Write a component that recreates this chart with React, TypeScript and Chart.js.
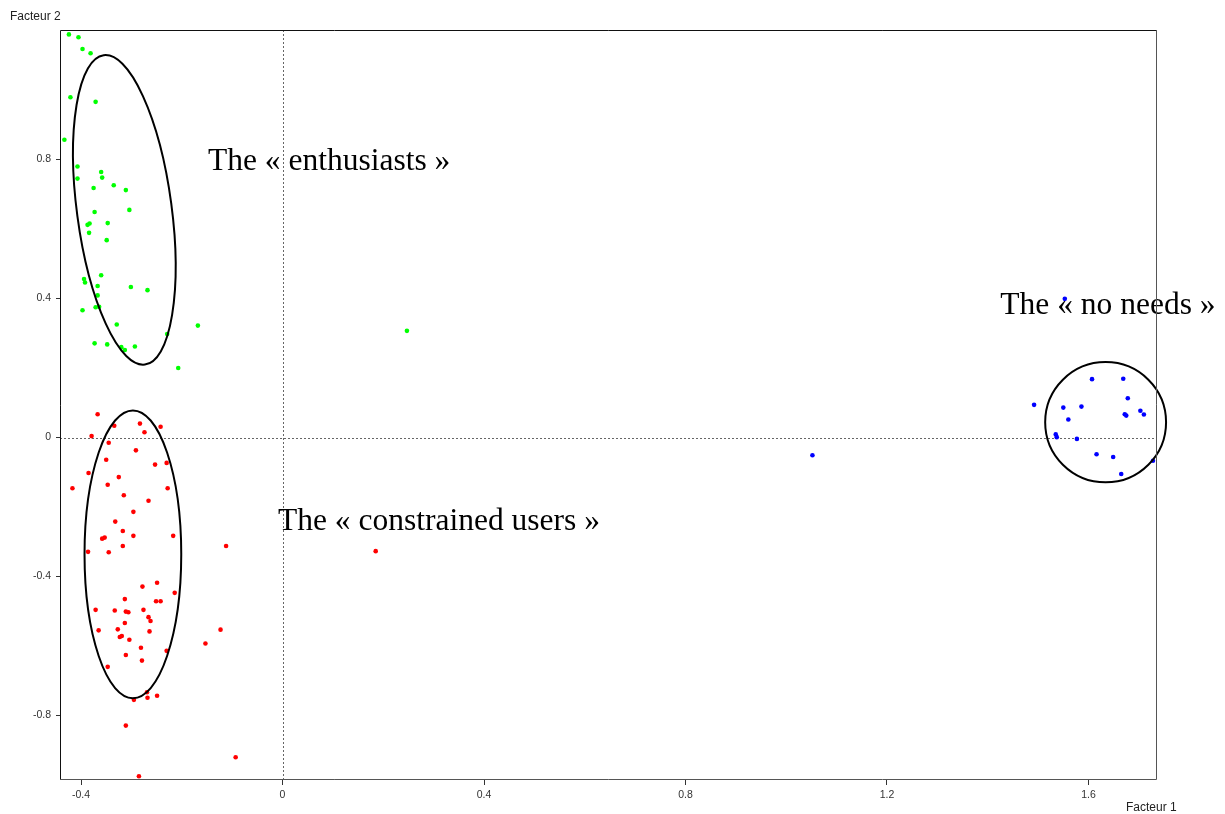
import { useEffect, useRef } from "react"
import { Chart, registerables } from "chart.js"
import type { Plugin } from "chart.js"

Chart.register(...registerables)

// Facteur 1 / Facteur 2 coordinates
const greenX = [
  -0.424, -0.405, -0.397, -0.381, -0.421, -0.371, -0.433, -0.407, -0.36, -0.407, -0.358, -0.375, -0.335, -0.311,
  -0.373, -0.304, -0.383, -0.387, -0.347, -0.384, -0.349, -0.394, -0.392, -0.36, -0.367, -0.301, -0.268, -0.367,
  -0.397, -0.371, -0.364, -0.329, -0.168, -0.229, -0.373, -0.348, -0.32, -0.313, -0.293, -0.207, 0.247,
]
const greenY = [
  1.16, 1.152, 1.118, 1.106, 0.979, 0.966, 0.857, 0.78, 0.764, 0.745, 0.748, 0.718, 0.726, 0.712, 0.649, 0.655,
  0.616, 0.612, 0.617, 0.589, 0.568, 0.456, 0.446, 0.467, 0.436, 0.433, 0.424, 0.409, 0.366, 0.375, 0.376, 0.325,
  0.322, 0.298, 0.271, 0.268, 0.26, 0.252, 0.262, 0.2, 0.307,
]

const redX = [
  -0.367, -0.334, -0.283, -0.242, -0.274, -0.379, -0.345, -0.291, -0.35, -0.253, -0.23, -0.385, -0.325, -0.417,
  -0.347, -0.228, -0.315, -0.266, -0.296, -0.332, -0.317, -0.358, -0.353, -0.296, -0.217, -0.317, -0.112, -0.386,
  -0.345, -0.278, -0.249, -0.214, -0.313, -0.251, -0.242, -0.371, -0.333, -0.311, -0.306, -0.276, -0.266, -0.262,
  -0.313, -0.365, -0.327, -0.264, -0.123, -0.323, -0.319, -0.304, -0.153, -0.281, -0.23, -0.311, -0.279, -0.347,
  -0.269, -0.295, -0.268, -0.249, -0.311, -0.093, -0.285, 0.185,
]
const redY = [
  0.067, 0.034, 0.04, 0.031, 0.015, 0.004, -0.015, -0.037, -0.064, -0.078, -0.073, -0.102, -0.114, -0.146, -0.136,
  -0.146, -0.166, -0.182, -0.214, -0.242, -0.269, -0.291, -0.288, -0.283, -0.283, -0.312, -0.312, -0.329, -0.33,
  -0.429, -0.418, -0.447, -0.465, -0.471, -0.471, -0.496, -0.498, -0.501, -0.503, -0.496, -0.517, -0.528, -0.534,
  -0.555, -0.552, -0.558, -0.553, -0.574, -0.571, -0.582, -0.593, -0.605, -0.614, -0.626, -0.642, -0.66, -0.733,
  -0.755, -0.749, -0.743, -0.829, -0.92, -0.975, -0.327,
]

const blueX = [
  1.492, 1.607, 1.669, 1.55, 1.586, 1.678, 1.56, 1.672, 1.675, 1.703, 1.71, 1.535, 1.537, 1.577, 1.616, 1.649,
  1.665, 1.728, 1.553, 1.052,
]
const blueY = [
  0.094, 0.168, 0.169, 0.086, 0.089, 0.113, 0.052, 0.067, 0.063, 0.077, 0.066, 0.009, 0.001, -0.004, -0.048,
  -0.056, -0.105, -0.067, 0.399, -0.051,
]

const xTicks = [-0.4, 0, 0.4, 0.8, 1.2, 1.6]
const yTicks = [-0.8, -0.4, 0, 0.4, 0.8]

const groupLabels = ["The « enthusiasts »", "The « constrained users »", "The « no needs »"]
// where each group label starts (left edge, baseline), in data units
const labelX = [-0.148, -0.009, 1.425]
const labelY = [0.77, -0.266, 0.355]

// group ellipses: centre, semi-axes (data units), tilt on screen (degrees)
const ellipseCx = [-0.314, -0.297, 1.634]
const ellipseCy = [0.655, -0.336, 0.044]
const ellipseRx = [0.094, 0.096, 0.12]
const ellipseRy = [0.449, 0.414, 0.173]
const ellipseTilt = [-7.6, 0, 0]

const toPoints = (xs: number[], ys: number[]) => xs.map((x, i) => ({ x, y: ys[i] }))

const decorPlugin: Plugin<"scatter"> = {
  id: "decor",
  beforeDatasetsDraw(chart) {
    const { ctx, chartArea: a, scales } = chart
    const x0 = scales.x.getPixelForValue(0)
    const y0 = scales.y.getPixelForValue(0)
    ctx.save()
    ctx.strokeStyle = "#666"
    ctx.lineWidth = 1
    ctx.setLineDash([2, 2])
    ctx.beginPath()
    ctx.moveTo(Math.round(x0) + 0.5, a.top)
    ctx.lineTo(Math.round(x0) + 0.5, a.bottom)
    ctx.moveTo(a.left, Math.round(y0) + 0.5)
    ctx.lineTo(a.right, Math.round(y0) + 0.5)
    ctx.stroke()
    ctx.restore()
  },
  afterDatasetsDraw(chart) {
    const { ctx, scales } = chart
    const sx = scales.x
    const sy = scales.y
    const pxPerX = Math.abs(sx.getPixelForValue(1) - sx.getPixelForValue(0))
    const pxPerY = Math.abs(sy.getPixelForValue(1) - sy.getPixelForValue(0))
    ctx.save()
    ctx.strokeStyle = "#000"
    ctx.lineWidth = 2
    ellipseCx.forEach((cx, i) => {
      ctx.beginPath()
      ctx.ellipse(
        sx.getPixelForValue(cx),
        sy.getPixelForValue(ellipseCy[i]),
        ellipseRx[i] * pxPerX,
        ellipseRy[i] * pxPerY,
        (ellipseTilt[i] * Math.PI) / 180,
        0,
        Math.PI * 2,
      )
      ctx.stroke()
    })
    ctx.fillStyle = "#000"
    ctx.font = '31.5px "Liberation Serif", "Times New Roman", serif'
    ctx.textAlign = "left"
    ctx.textBaseline = "alphabetic"
    groupLabels.forEach((t, i) => {
      ctx.fillText(t, sx.getPixelForValue(labelX[i]), sy.getPixelForValue(labelY[i]))
    })
    ctx.restore()
  },
  afterDraw(chart) {
    const { ctx, chartArea: a } = chart
    ctx.save()
    ctx.lineWidth = 1
    ctx.strokeStyle = "#111"
    ctx.beginPath()
    ctx.moveTo(a.left + 0.5, a.bottom)
    ctx.lineTo(a.left + 0.5, a.top + 0.5)
    ctx.lineTo(a.right, a.top + 0.5)
    ctx.stroke()
    ctx.strokeStyle = "#555"
    ctx.beginPath()
    ctx.moveTo(a.right - 0.5, a.top)
    ctx.lineTo(a.right - 0.5, a.bottom - 0.5)
    ctx.lineTo(a.left, a.bottom - 0.5)
    ctx.stroke()
    ctx.fillStyle = "#222"
    ctx.font = '12px "Liberation Sans", Arial, sans-serif'
    ctx.textBaseline = "middle"
    ctx.textAlign = "left"
    ctx.fillText("Facteur 2", 10, 17)
    ctx.fillText("Facteur 1", 1126, 808)
    ctx.restore()
  },
}

export default function App() {
  const chartRef = useRef<HTMLCanvasElement>(null)
  const chartInstance = useRef<Chart | null>(null)

  useEffect(() => {
    if (!chartRef.current) return
    if (chartInstance.current) chartInstance.current.destroy()

    const tickFont = { family: '"Liberation Sans", Arial, sans-serif', size: 10.5 }
    const fmt = (v: string | number) => String(Math.round(Number(v) * 10) / 10)

    chartInstance.current = new Chart(chartRef.current, {
      type: "scatter",
      data: {
        datasets: [
          { data: toPoints(greenX, greenY), backgroundColor: "#00ff00" },
          { data: toPoints(redX, redY), backgroundColor: "#ff0000" },
          { data: toPoints(blueX, blueY), backgroundColor: "#0000ff" },
        ],
      },
      options: {
        responsive: true,
        maintainAspectRatio: false,
        animation: false,
        layout: { padding: { top: 30, right: 68, left: 0, bottom: 0 } },
        elements: { point: { radius: 2.3, borderWidth: 0, hoverRadius: 2.3 } },
        plugins: { legend: { display: false }, tooltip: { enabled: false } },
        scales: {
          x: {
            type: "linear",
            min: -0.4417,
            max: 1.736,
            afterBuildTicks: (scale) => {
              scale.ticks = xTicks.map((value) => ({ value }))
            },
            afterFit: (scale) => {
              scale.height = 34
            },
            border: { display: false },
            grid: { drawOnChartArea: false, drawTicks: true, tickLength: 5, color: "#333" },
            ticks: { font: tickFont, color: "#333", padding: 4, callback: fmt, maxRotation: 0 },
          },
          y: {
            type: "linear",
            min: -0.9856,
            max: 1.1727,
            afterBuildTicks: (scale) => {
              scale.ticks = yTicks.map((value) => ({ value }))
            },
            afterFit: (scale) => {
              scale.width = 60
            },
            border: { display: false },
            grid: { drawOnChartArea: false, drawTicks: true, tickLength: 4, color: "#333" },
            ticks: { font: tickFont, color: "#333", padding: 5, callback: fmt },
          },
        },
      },
      plugins: [decorPlugin],
    })

    return () => {
      if (chartInstance.current) {
        chartInstance.current.destroy()
        chartInstance.current = null
      }
    }
  }, [])

  return (
    <div style={{ position: "fixed", left: 0, top: 0, width: 1225, height: 814, background: "#fff" }}>
      <canvas ref={chartRef} />
    </div>
  )
}
